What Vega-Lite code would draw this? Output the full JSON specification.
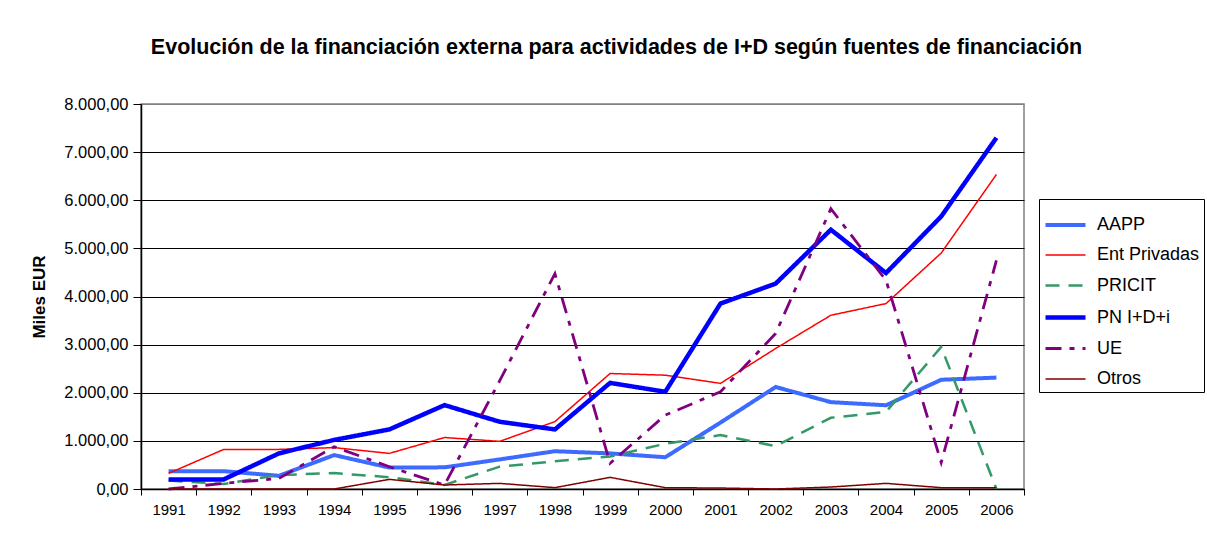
{
  "$schema": "https://vega.github.io/schema/vega-lite/v6.json",
  "width": 883,
  "height": 385,
  "autosize": {"type": "none"},
  "padding": {"left": 141, "top": 104, "right": 183, "bottom": 48},
  "background": "white",
  "config": {
    "locale": {"number": {"decimal": ",", "thousands": ".", "grouping": [3], "currency": ["", " €"]}},
    "font": "Liberation Sans",
    "view": {"stroke": "#808080", "strokeWidth": 1.5}
  },
  "title": {
    "text": "Evolución de la financiación externa para actividades de I+D según fuentes de financiación",
    "fontSize": 21.5,
    "fontWeight": "bold",
    "font": "Liberation Sans",
    "color": "black",
    "anchor": "middle",
    "dx": 34,
    "offset": 38
  },
  "data": {
    "values": [
      {"year": "1991", "serie": "AAPP", "value": 370},
      {"year": "1992", "serie": "AAPP", "value": 370},
      {"year": "1993", "serie": "AAPP", "value": 275},
      {"year": "1994", "serie": "AAPP", "value": 705},
      {"year": "1995", "serie": "AAPP", "value": 445},
      {"year": "1996", "serie": "AAPP", "value": 450},
      {"year": "1997", "serie": "AAPP", "value": 615},
      {"year": "1998", "serie": "AAPP", "value": 785},
      {"year": "1999", "serie": "AAPP", "value": 740},
      {"year": "2000", "serie": "AAPP", "value": 660},
      {"year": "2001", "serie": "AAPP", "value": 1380},
      {"year": "2002", "serie": "AAPP", "value": 2120},
      {"year": "2003", "serie": "AAPP", "value": 1805},
      {"year": "2004", "serie": "AAPP", "value": 1740},
      {"year": "2005", "serie": "AAPP", "value": 2270},
      {"year": "2006", "serie": "AAPP", "value": 2315},
      {"year": "1991", "serie": "Ent Privadas", "value": 325},
      {"year": "1992", "serie": "Ent Privadas", "value": 823},
      {"year": "1993", "serie": "Ent Privadas", "value": 823},
      {"year": "1994", "serie": "Ent Privadas", "value": 860},
      {"year": "1995", "serie": "Ent Privadas", "value": 740},
      {"year": "1996", "serie": "Ent Privadas", "value": 1070},
      {"year": "1997", "serie": "Ent Privadas", "value": 990},
      {"year": "1998", "serie": "Ent Privadas", "value": 1400},
      {"year": "1999", "serie": "Ent Privadas", "value": 2400},
      {"year": "2000", "serie": "Ent Privadas", "value": 2365},
      {"year": "2001", "serie": "Ent Privadas", "value": 2195},
      {"year": "2002", "serie": "Ent Privadas", "value": 2920},
      {"year": "2003", "serie": "Ent Privadas", "value": 3610},
      {"year": "2004", "serie": "Ent Privadas", "value": 3853},
      {"year": "2005", "serie": "Ent Privadas", "value": 4903},
      {"year": "2006", "serie": "Ent Privadas", "value": 6535},
      {"year": "1991", "serie": "PRICIT", "value": 175},
      {"year": "1992", "serie": "PRICIT", "value": 105},
      {"year": "1993", "serie": "PRICIT", "value": 290},
      {"year": "1994", "serie": "PRICIT", "value": 330},
      {"year": "1995", "serie": "PRICIT", "value": 245},
      {"year": "1996", "serie": "PRICIT", "value": 85},
      {"year": "1997", "serie": "PRICIT", "value": 465},
      {"year": "1998", "serie": "PRICIT", "value": 575},
      {"year": "1999", "serie": "PRICIT", "value": 675},
      {"year": "2000", "serie": "PRICIT", "value": 940},
      {"year": "2001", "serie": "PRICIT", "value": 1120},
      {"year": "2002", "serie": "PRICIT", "value": 892},
      {"year": "2003", "serie": "PRICIT", "value": 1480},
      {"year": "2004", "serie": "PRICIT", "value": 1604},
      {"year": "2005", "serie": "PRICIT", "value": 2952},
      {"year": "2006", "serie": "PRICIT", "value": 0},
      {"year": "1991", "serie": "PN I+D+i", "value": 200},
      {"year": "1992", "serie": "PN I+D+i", "value": 200},
      {"year": "1993", "serie": "PN I+D+i", "value": 740},
      {"year": "1994", "serie": "PN I+D+i", "value": 1020},
      {"year": "1995", "serie": "PN I+D+i", "value": 1238},
      {"year": "1996", "serie": "PN I+D+i", "value": 1743},
      {"year": "1997", "serie": "PN I+D+i", "value": 1397},
      {"year": "1998", "serie": "PN I+D+i", "value": 1238},
      {"year": "1999", "serie": "PN I+D+i", "value": 2205},
      {"year": "2000", "serie": "PN I+D+i", "value": 2020},
      {"year": "2001", "serie": "PN I+D+i", "value": 3853},
      {"year": "2002", "serie": "PN I+D+i", "value": 4268},
      {"year": "2003", "serie": "PN I+D+i", "value": 5388},
      {"year": "2004", "serie": "PN I+D+i", "value": 4488},
      {"year": "2005", "serie": "PN I+D+i", "value": 5664},
      {"year": "2006", "serie": "PN I+D+i", "value": 7297},
      {"year": "1991", "serie": "UE", "value": 0},
      {"year": "1992", "serie": "UE", "value": 117},
      {"year": "1993", "serie": "UE", "value": 220},
      {"year": "1994", "serie": "UE", "value": 878},
      {"year": "1995", "serie": "UE", "value": 463},
      {"year": "1996", "serie": "UE", "value": 83},
      {"year": "1997", "serie": "UE", "value": 2250},
      {"year": "1998", "serie": "UE", "value": 4475},
      {"year": "1999", "serie": "UE", "value": 533},
      {"year": "2000", "serie": "UE", "value": 1535},
      {"year": "2001", "serie": "UE", "value": 2020},
      {"year": "2002", "serie": "UE", "value": 3230},
      {"year": "2003", "serie": "UE", "value": 5824},
      {"year": "2004", "serie": "UE", "value": 4336},
      {"year": "2005", "serie": "UE", "value": 550},
      {"year": "2006", "serie": "UE", "value": 4751},
      {"year": "1991", "serie": "Otros", "value": 0},
      {"year": "1992", "serie": "Otros", "value": 0},
      {"year": "1993", "serie": "Otros", "value": 0},
      {"year": "1994", "serie": "Otros", "value": 0},
      {"year": "1995", "serie": "Otros", "value": 200},
      {"year": "1996", "serie": "Otros", "value": 83},
      {"year": "1997", "serie": "Otros", "value": 117},
      {"year": "1998", "serie": "Otros", "value": 28},
      {"year": "1999", "serie": "Otros", "value": 242},
      {"year": "2000", "serie": "Otros", "value": 28},
      {"year": "2001", "serie": "Otros", "value": 20},
      {"year": "2002", "serie": "Otros", "value": 0},
      {"year": "2003", "serie": "Otros", "value": 41},
      {"year": "2004", "serie": "Otros", "value": 117},
      {"year": "2005", "serie": "Otros", "value": 28},
      {"year": "2006", "serie": "Otros", "value": 28}
    ]
  },
  "mark": {"type": "line", "strokeCap": "butt", "strokeJoin": "miter"},
  "encoding": {
    "x": {
      "field": "year",
      "type": "ordinal",
      "bandPosition": 0.5,
      "scale": {"type": "band", "paddingInner": 0, "paddingOuter": 0},
      "axis": {
        "title": null,
        "labelAngle": 0,
        "labelFontSize": 15,
        "labelColor": "black",
        "labelPadding": 7,
        "tickBand": "extent",
        "tickColor": "black",
        "tickSize": 6,
        "domainColor": "black",
        "domainWidth": 1.5,
        "grid": false
      }
    },
    "y": {
      "field": "value",
      "type": "quantitative",
      "scale": {"domain": [0, 8000], "nice": false},
      "axis": {
        "title": "Miles EUR",
        "titleFontSize": 17,
        "titleFontWeight": "bold",
        "titleColor": "black",
        "titlePadding": 15,
        "values": [0, 1000, 2000, 3000, 4000, 5000, 6000, 7000, 8000],
        "format": ",.2f",
        "labelFontSize": 16.5,
        "labelColor": "black",
        "labelPadding": 5,
        "tickColor": "black",
        "tickSize": 8,
        "domainColor": "black",
        "domainWidth": 1.5,
        "grid": true,
        "gridColor": {"condition": {"test": "datum.value == 8000", "value": "#808080"}, "value": "black"},
        "gridWidth": 1.2,
        "gridOpacity": 1
      }
    },
    "color": {
      "field": "serie",
      "type": "nominal",
      "scale": {
        "domain": ["AAPP", "Ent Privadas", "PRICIT", "PN I+D+i", "UE", "Otros"],
        "range": ["#3d6bff", "#ff0000", "#339966", "#0000ff", "#800080", "#800000"]
      },
      "legend": {
        "title": null,
        "orient": "none",
        "legendX": 898,
        "legendY": 95,
        "symbolType": "stroke",
        "symbolSize": 1600,
        "rowPadding": -10.5,
        "labelFontSize": 18,
        "labelColor": "black",
        "labelOffset": 9,
        "labelLimit": 200,
        "strokeColor": "black",
        "fillColor": "white",
        "padding": 4
      }
    },
    "strokeDash": {
      "field": "serie",
      "type": "nominal",
      "scale": {
        "type": "ordinal",
        "domain": ["AAPP", "Ent Privadas", "PRICIT", "PN I+D+i", "UE", "Otros"],
        "range": [[1, 0], [1, 0], [14, 9], [1, 0], [16, 8, 5, 8], [1, 0]]
      },
      "legend": null
    },
    "strokeWidth": {
      "field": "serie",
      "type": "nominal",
      "scale": {
        "type": "ordinal",
        "domain": ["AAPP", "Ent Privadas", "PRICIT", "PN I+D+i", "UE", "Otros"],
        "range": [4, 1.5, 2.5, 4.5, 2.8, 1.5]
      },
      "legend": null
    }
  }
}
